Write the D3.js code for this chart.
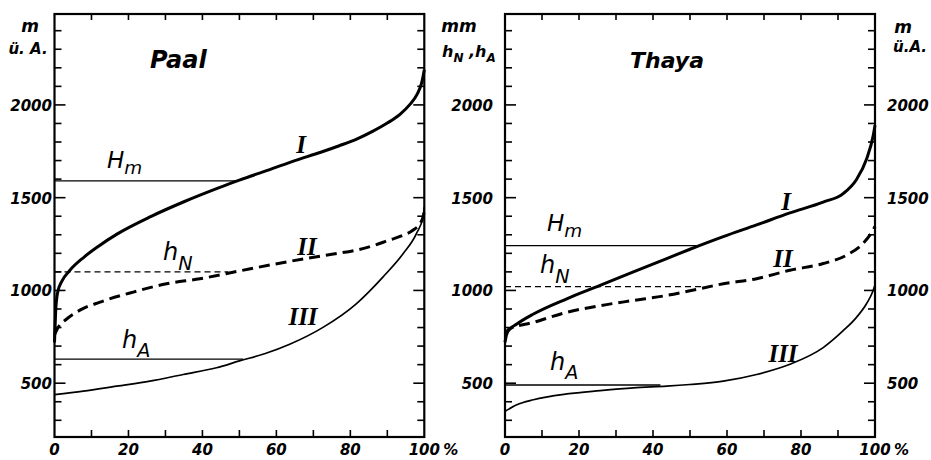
<!DOCTYPE html>
<html><head><meta charset="utf-8">
<script src="https://cdn.jsdelivr.net/npm/d3@7"></script>
<style>body{margin:0;background:#fff}</style>
</head><body><svg id="c" width="931" height="460"></svg>
<script>
// ---------- data ----------
const xTickLabels = [0, 20, 40, 60, 80, 100];
const xMinorTicks = d3.range(10, 100, 10);
const yTickLabels = [500, 1000, 1500, 2000];
const yMinorTicks = d3.range(300, 2401, 100);

// Paal
const paalX_I   = [0, 0.3, 0.8, 2, 4, 8, 12, 17, 26, 35, 44, 50, 58, 65, 72, 77, 82, 86, 90, 93.5, 96, 98, 99.3, 100];
const paalI     = [720, 880, 985, 1050, 1105, 1180, 1240, 1305, 1398, 1478, 1550, 1595, 1650, 1700, 1745, 1780, 1818, 1857, 1902, 1950, 2000, 2055, 2120, 2190];
const paalX_II  = [0, 1, 3.3, 7, 12.3, 21.3, 30.3, 39.3, 50, 59, 68, 75, 81.6, 86, 90.6, 94, 97, 99, 99.7, 100];
const paalII    = [760, 801, 846, 895, 937, 991, 1036, 1063, 1105, 1140, 1172, 1195, 1217, 1240, 1272, 1295, 1326, 1365, 1399, 1430];
const paalX_III = [0, 7.8, 16.8, 25.8, 34.8, 43.8, 50, 57, 63.6, 72.6, 81.6, 88.8, 94.3, 97.9, 99.7, 100];
const paalIII   = [438, 457, 484, 511, 547, 583, 620, 660, 710, 801, 928, 1072, 1199, 1308, 1399, 1450];
const paalRef   = [1590, 1100, 630];   // H_m, h_N, h_A
const paalRefEnd = [49.5, 47, 51];

// Thaya
const thayaX_I   = [0, 0.4, 1, 3.2, 7.7, 16.7, 25.7, 34.7, 43.7, 50, 59, 68, 77, 86, 91.4, 95, 97.7, 99.5, 100];
const thayaI     = [720, 760, 785, 819, 873, 955, 1027, 1100, 1172, 1222, 1290, 1353, 1418, 1476, 1522, 1598, 1707, 1833, 1890];
const thayaX_II  = [0, 1, 7.7, 16.7, 25.7, 34.7, 43.7, 50, 59, 68, 77, 86, 92.3, 96.8, 99.5, 100];
const thayaII    = [765, 790, 828, 882, 918, 946, 973, 998, 1036, 1063, 1109, 1145, 1190, 1254, 1326, 1345];
const thayaX_III = [0, 3.2, 7.7, 16.7, 25.7, 34.7, 43.7, 50, 59, 68, 77, 86, 91.4, 95, 97.7, 99.5, 100];
const thayaIII   = [348, 384, 411, 442, 460, 475, 484, 493, 511, 547, 602, 692, 783, 855, 928, 1000, 1030];
const thayaRef   = [1242, 1020, 490];
const thayaRefEnd = [51.8, 55, 42];

// ---------- drawing ----------
const svg = d3.select("#c");
const NUM = "'DejaVu Sans', sans-serif";
const SERIF = "'Liberation Serif', 'DejaVu Serif', serif";

const y = d3.scaleLinear().domain([210, 2490]).range([437, 14]);

const panels = [
  { name: "Paal", x0: 54.5, x1: 424.3, titleX: 150, titleSize: 24,
    curves: [[paalX_I, paalI], [paalX_II, paalII], [paalX_III, paalIII]],
    ref: paalRef, refEnd: paalRefEnd,
    roman: [[301, 153], [307, 255], [303, 325]],
    labels: { Hm: [107, 168], hN: [163, 260], hA: [122, 348] },
    leftLabelX: 52, rightLabels: false },
  { name: "Thaya", x0: 505, x1: 875, titleX: 630, titleSize: 22,
    curves: [[thayaX_I, thayaI], [thayaX_II, thayaII], [thayaX_III, thayaIII]],
    ref: thayaRef, refEnd: thayaRefEnd,
    roman: [[786, 210], [783, 267], [783, 362]],
    labels: { Hm: [547, 231], hN: [540, 273], hA: [550, 370] },
    leftLabelX: 493, rightLabels: true }
];

const curveStyles = [
  { w: 3, dash: null },
  { w: 3, dash: "11,6" },
  { w: 1.7, dash: null }
];
const refStyles = [
  { w: 1.2, dash: null },
  { w: 1.2, dash: "6,4" },
  { w: 1.4, dash: null }
];
const romans = ["I", "II", "III"];

panels.forEach(p => {
  const x = d3.scaleLinear().domain([0, 100]).range([p.x0, p.x1]);
  const g = svg.append("g");

  // reference horizontal lines
  p.ref.forEach((v, i) => {
    g.append("line")
      .attr("x1", x(0)).attr("x2", x(p.refEnd[i]))
      .attr("y1", y(v)).attr("y2", y(v))
      .attr("stroke", "#000").attr("stroke-width", refStyles[i].w)
      .attr("stroke-dasharray", refStyles[i].dash);
  });

  // curves
  const line = d3.line().x(d => x(d[0])).y(d => y(d[1])).curve(d3.curveMonotoneX);
  p.curves.forEach((c, i) => {
    const pts = c[0].map((xv, k) => [xv, c[1][k]]);
    g.append("path").attr("d", line(pts))
      .attr("fill", "none").attr("stroke", "#000")
      .attr("stroke-width", curveStyles[i].w)
      .attr("stroke-dasharray", curveStyles[i].dash)
      .attr("stroke-linecap", "butt");
  });

  // ticks: left & right sides
  yMinorTicks.forEach(v => {
    const major = v % 500 === 0;
    const len = major ? 11 : 7;
    g.append("line").attr("x1", x(0)).attr("x2", x(0) + len)
      .attr("y1", y(v)).attr("y2", y(v)).attr("stroke", "#000").attr("stroke-width", 1.6);
    g.append("line").attr("x1", x(100)).attr("x2", x(100) - len)
      .attr("y1", y(v)).attr("y2", y(v)).attr("stroke", "#000").attr("stroke-width", 1.6);
  });
  // ticks: top & bottom
  xMinorTicks.forEach(v => {
    g.append("line").attr("x1", x(v)).attr("x2", x(v))
      .attr("y1", y.range()[1]).attr("y2", y.range()[1] + 6).attr("stroke", "#000").attr("stroke-width", 1.6);
    g.append("line").attr("x1", x(v)).attr("x2", x(v))
      .attr("y1", y.range()[0]).attr("y2", y.range()[0] - 7).attr("stroke", "#000").attr("stroke-width", 1.6);
  });

  // frame
  g.append("rect").attr("x", x(0)).attr("y", y.range()[1])
    .attr("width", x(100) - x(0)).attr("height", y.range()[0] - y.range()[1])
    .attr("fill", "none").attr("stroke", "#000").attr("stroke-width", 2.2);

  // y tick labels
  yTickLabels.forEach(v => {
    g.append("text").attr("x", p.leftLabelX).attr("y", y(v) + 6)
      .attr("text-anchor", "end").attr("font-family", NUM).attr("font-weight", "bold")
      .attr("font-style", "italic").attr("font-size", 15).text(v);
    if (p.rightLabels) {
      g.append("text").attr("x", p.x1 + 12).attr("y", y(v) + 6)
        .attr("text-anchor", "start").attr("font-family", NUM).attr("font-weight", "bold")
        .attr("font-style", "italic").attr("font-size", 15).text(v);
    }
  });

  // x tick labels
  xTickLabels.forEach(v => {
    g.append("text").attr("x", x(v)).attr("y", 455)
      .attr("text-anchor", "middle").attr("font-family", NUM).attr("font-weight", "bold")
      .attr("font-style", "italic").attr("font-size", 15).text(v);
  });
  g.append("text").attr("x", x(100) + 19).attr("y", 455)
    .attr("font-family", NUM).attr("font-weight", "bold")
    .attr("font-style", "italic").attr("font-size", 15).text("%");

  // title
  g.append("text").attr("x", p.titleX).attr("y", 68)
    .attr("font-family", NUM).attr("font-weight", "bold").attr("font-style", "italic")
    .attr("font-size", p.titleSize).text(p.name);

  // roman numerals
  p.roman.forEach((pos, i) => {
    g.append("text").attr("x", pos[0]).attr("y", pos[1]).attr("text-anchor", "middle")
      .attr("font-family", SERIF).attr("font-weight", "bold").attr("font-style", "italic")
      .attr("font-size", 25).text(romans[i]);
  });

  // curve labels with subscripts
  const sub = (pos, main, s, dy, size) => {
    const t = g.append("text").attr("x", pos[0]).attr("y", pos[1])
      .attr("font-family", NUM).attr("font-style", "italic").attr("font-size", size);
    t.append("tspan").text(main);
    t.append("tspan").attr("dy", dy).attr("font-size", size * 0.8).text(s);
  };
  sub(p.labels.Hm, "H", "m", 6, 23);
  sub(p.labels.hN, "h", "N", 10, 24);
  sub(p.labels.hA, "h", "A", 9, 24);
});

// axis unit labels
const unit = (xx, yy, txt, size) => svg.append("text").attr("x", xx).attr("y", yy)
  .attr("text-anchor", "middle").attr("font-family", NUM).attr("font-weight", "bold")
  .attr("font-style", "italic").attr("font-size", size).text(txt);
unit(30, 32, "m", 17);
unit(28, 54, "ü. A.", 15);
unit(459, 32, "mm", 17);
unit(903, 33, "m", 17);
unit(910, 52, "ü.A.", 15);
// h_N , h_A label (right panel, left axis)
const hl = svg.append("text").attr("x", 442).attr("y", 57)
  .attr("font-family", NUM).attr("font-weight", "bold").attr("font-style", "italic").attr("font-size", 16);
hl.append("tspan").text("h");
hl.append("tspan").attr("dy", 5).attr("font-size", 12).text("N");
hl.append("tspan").attr("dy", -5).text(" ,h");
hl.append("tspan").attr("dy", 5).attr("font-size", 12).text("A");
</script>
</body></html>
